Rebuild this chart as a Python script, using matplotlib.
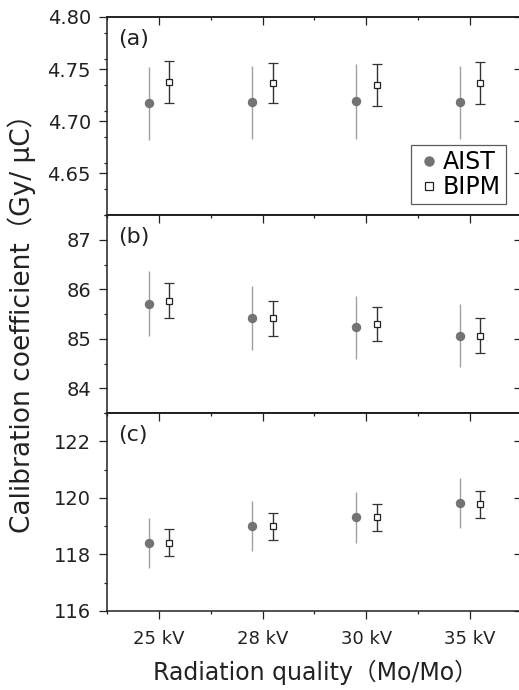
import matplotlib
matplotlib.use("Agg")
import matplotlib.pyplot as plt
from matplotlib.lines import Line2D
import numpy as np

plt.rcParams['font.family'] = ['DejaVu Sans', 'Noto Sans CJK JP']

categories = ["25 kV", "28 kV", "30 kV", "35 kV"]

aist_a = [4.717, 4.718, 4.719, 4.718]
aist_a_err = [0.035, 0.035, 0.036, 0.035]
bipm_a = [4.7375, 4.7365, 4.7346, 4.7365]
bipm_a_err = [0.020, 0.019, 0.020, 0.020]

aist_b = [85.71, 85.42, 85.23, 85.06]
aist_b_err = [0.65, 0.64, 0.64, 0.64]
bipm_b = [85.77, 85.41, 85.30, 85.06]
bipm_b_err = [0.35, 0.35, 0.35, 0.35]

aist_c = [118.40, 119.00, 119.31, 119.82]
aist_c_err = [0.89, 0.89, 0.89, 0.89]
bipm_c = [118.42, 118.99, 119.32, 119.78]
bipm_c_err = [0.49, 0.49, 0.48, 0.48]

panel_labels = ["(a)", "(b)", "(c)"]
ylims = [(4.61, 4.80), (83.5, 87.5), (116, 123)]
yticks = [[4.65, 4.70, 4.75, 4.80], [84, 85, 86, 87], [116, 118, 120, 122]]
yminor = [0.025, 0.5, 1.0]
ytick_fmt = ["{:.2f}", "{:.0f}", "{:.0f}"]

W, H = 519, 690
fig = plt.figure(figsize=(W / 100, H / 100), dpi=100)

left_px, right_px = 107, 522
tops = [17, 215, 413]
bottoms = [215, 413, 611]

AIST_MC = '#737373'
AIST_EC = '#a0a0a0'
BIPM_EC = '#333333'

x = np.arange(1, len(categories) + 1)
off = 0.1
data = [(aist_a, aist_a_err, bipm_a, bipm_a_err),
        (aist_b, aist_b_err, bipm_b, bipm_b_err),
        (aist_c, aist_c_err, bipm_c, bipm_c_err)]

axes = []
for i in range(3):
    ax = fig.add_axes([left_px / W, 1 - bottoms[i] / H,
                       (right_px - left_px) / W, (bottoms[i] - tops[i]) / H])
    axes.append(ax)
    a, ae, b, be = data[i]
    ax.errorbar(x - off, a, yerr=ae, fmt='o', color=AIST_MC, ecolor=AIST_EC,
                markersize=6.8, elinewidth=1.0, capsize=3.5, capthick=1.0,
                markeredgewidth=0, zorder=3)
    ax.errorbar(x + off, b, yerr=be, fmt='s', mfc='white', mec='#222222',
                ecolor=BIPM_EC, markersize=5, markeredgewidth=0.9,
                elinewidth=1.0, capsize=3.5, capthick=1.0, zorder=3)
    ax.set_xlim(0.5, 4.5)
    ax.set_ylim(*ylims[i])
    ax.set_yticks(yticks[i])
    ax.set_yticklabels([ytick_fmt[i].format(v) for v in yticks[i]])
    ax.set_yticks(np.arange(ylims[i][0], ylims[i][1] + 1e-9, yminor[i]), minor=True)
    ax.set_xticks(x)
    ax.set_xticks(np.arange(0.5, 4.51, 0.5), minor=True)
    for s in ax.spines.values():
        s.set_linewidth(1.1)
        s.set_color('#222222')
    ax.tick_params(axis='both', which='major', direction='out', length=5.5, width=0.9,
                   labelsize=14, colors='#222222', right=False, top=False)
    ax.tick_params(axis='both', which='minor', direction='out', length=2.5, width=0.9,
                   right=False, top=False, colors='#222222')
    ax.tick_params(axis='y', which='major', pad=6)
    if i < 2:
        ax.tick_params(axis='x', labelbottom=False)
    else:
        ax.set_xticklabels(categories, fontsize=13)
        ax.tick_params(axis='x', which='major', pad=8)
    # right ticks pointing inward
    sy = ax.secondary_yaxis('right')
    sy.set_yticks(yticks[i])
    sy.set_yticks(np.arange(ylims[i][0], ylims[i][1] + 1e-9, yminor[i]), minor=True)
    sy.tick_params(which='major', direction='in', length=5.5, width=0.9, labelright=False, colors='#222222')
    sy.tick_params(which='minor', direction='in', length=2.5, width=0.9, colors='#222222')
    sy.spines['right'].set_linewidth(1.1)
    # top ticks pointing inward
    sx = ax.secondary_xaxis('top')
    sx.set_xticks(x)
    sx.set_xticks(np.arange(0.5, 4.51, 0.5), minor=True)
    sx.tick_params(which='major', direction='in', length=5.5, width=0.9, labeltop=False, colors='#222222')
    sx.tick_params(which='minor', direction='in', length=2.0, width=0.9, colors='#222222')
    sx.spines['top'].set_linewidth(1.1)
    ax.text(0.027, 0.94, panel_labels[i], transform=ax.transAxes, fontsize=16,
            va='top', ha='left', color='#222222')

handles = [Line2D([], [], ls='none', marker='o', color=AIST_MC, markersize=7.5, markeredgewidth=0),
           Line2D([], [], ls='none', marker='s', mfc='white', mec='#222222', markersize=6,
                  markeredgewidth=0.9)]
leg = axes[0].legend(handles, ['AIST', 'BIPM'], loc='lower right',
                     bbox_to_anchor=(0.962, 0.055), borderaxespad=0,
                     fontsize=17, frameon=True, fancybox=False, handlelength=1.1,
                     handletextpad=0.05, borderpad=0.22, labelspacing=0.02)
leg.get_frame().set_edgecolor('#333333')
leg.get_frame().set_linewidth(0.9)

fig.text(22 / W, 1 - 317 / H, "Calibration coefficient（Gy/ μC）", rotation=90,
         ha='center', va='center', fontsize=19, color='#222222')
fig.text(315 / W, 1 - 672 / H, "Radiation quality（Mo/Mo）", ha='center', va='center',
         fontsize=17, color='#222222')

fig.savefig("out.png", dpi=100)
